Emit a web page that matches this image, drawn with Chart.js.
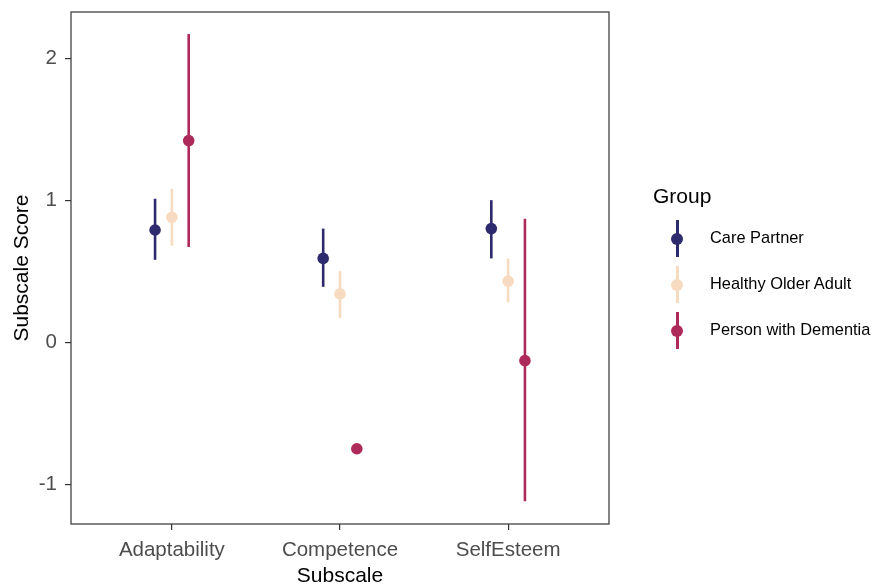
<!DOCTYPE html>
<html>
<head>
<meta charset="utf-8">
<script src="https://cdn.jsdelivr.net/npm/chart.js@4/dist/chart.umd.min.js"></script>
<style>
  html, body { margin: 0; padding: 0; background: #fff; }
  #wrap { position: relative; width: 873px; height: 587px; font-family: 'Liberation Sans', Arial, sans-serif; }
  #chart { position: absolute; left: 0; top: 0; }
  #legend { position: absolute; left: 653px; top: 181px; }
  #legend .title { font-size: 21px; color: #000; height: 35px; line-height: 30px; }
  #legend .item { position: relative; height: 46px; }
  #legend .key { position: absolute; left: 14px; top: 4px; width: 20px; height: 37px; }
  #legend .key .bar { position: absolute; left: 9px; top: 0; width: 2.5px; height: 37px; }
  #legend .key .dot { position: absolute; left: 4px; top: 12.5px; width: 12px; height: 12px; border-radius: 50%; }
  #legend .label { position: absolute; left: 57px; top: 12px; font-size: 16.4px; color: #000; white-space: nowrap; }
</style>
</head>
<body>
<div id="wrap">
  <canvas id="chart" width="873" height="587"></canvas>
  <div id="legend"></div>
</div>
<script>
const categories = ['Adaptability', 'Competence', 'SelfEsteem'];
const groups = ['Care Partner', 'Healthy Older Adult', 'Person with Dementia'];
const groupColors = ['#2e2a6e', '#f6dbc0', '#ae2a5b'];
const dodge = [-0.1, 0, 0.1];

// mean and interval per subscale
const carePartnerMean = [0.79, 0.59, 0.80];
const carePartnerLow  = [0.58, 0.39, 0.59];
const carePartnerHigh = [1.01, 0.80, 1.00];

const healthyMean = [0.88, 0.34, 0.43];
const healthyLow  = [0.68, 0.17, 0.28];
const healthyHigh = [1.08, 0.50, 0.59];

const dementiaMean = [1.42, -0.75, -0.13];
const dementiaLow  = [0.67, null, -1.12];
const dementiaHigh = [2.17, null, 0.87];

const yTicks = [-1, 0, 1, 2];

const means = [carePartnerMean, healthyMean, dementiaMean];
const lows = [carePartnerLow, healthyLow, dementiaLow];
const highs = [carePartnerHigh, healthyHigh, dementiaHigh];

const datasets = groups.map((g, gi) => ({
    label: g,
    data: means[gi].map((m, ci) => ({ x: ci + 1 + dodge[gi], y: m, lo: lows[gi][ci], hi: highs[gi][ci] })),
    backgroundColor: groupColors[gi],
    borderWidth: 0,
    pointRadius: 5.8,
    pointHoverRadius: 5.8
}));

// vertical ranges behind the points
const errorBars = {
    id: 'errorBars',
    beforeDatasetsDraw(chart) {
        const ctx = chart.ctx;
        const xs = chart.scales.x, ys = chart.scales.y;
        ctx.save();
        chart.data.datasets.forEach(ds => {
            ctx.strokeStyle = ds.backgroundColor;
            ctx.lineWidth = 2.6;
            ds.data.forEach(p => {
                if (p.lo == null || p.hi == null) return;
                const x = xs.getPixelForValue(p.x);
                ctx.beginPath();
                ctx.moveTo(x, ys.getPixelForValue(p.lo));
                ctx.lineTo(x, ys.getPixelForValue(p.hi));
                ctx.stroke();
            });
        });
        ctx.restore();
    }
};

const panelBorder = {
    id: 'panelBorder',
    afterDraw(chart) {
        const a = chart.chartArea;
        const ctx = chart.ctx;
        ctx.save();
        ctx.strokeStyle = '#333333';
        ctx.lineWidth = 1.2;
        ctx.strokeRect(a.left, a.top, a.right - a.left, a.bottom - a.top);
        ctx.restore();
    }
};

Chart.defaults.font.family = "'Liberation Sans', Arial, sans-serif";

new Chart(document.getElementById('chart'), {
    type: 'scatter',
    data: { datasets: datasets },
    options: {
        responsive: false,
        animation: false,
        events: [],
        layout: { padding: { top: 12, right: 264, left: 0, bottom: 0 } },
        plugins: { legend: { display: false }, tooltip: { enabled: false } },
        scales: {
            x: {
                type: 'linear',
                min: 0.4,
                max: 3.6,
                afterBuildTicks: (scale) => { scale.ticks = categories.map((c, i) => ({ value: i + 1 })); },
                afterFit: (scale) => {
                    scale.height = 63;
                    scale.paddingLeft = 0;
                    scale.paddingRight = 0;
                },
                ticks: {
                    callback: (v) => categories[v - 1],
                    color: '#4d4d4d',
                    font: { size: 20.5 },
                    padding: 8,
                    maxRotation: 0
                },
                grid: { drawOnChartArea: false, drawTicks: true, tickLength: 6, color: '#333333', lineWidth: 1.2 },
                border: { display: false },
                title: { display: true, text: 'Subscale', color: '#000', font: { size: 21, lineHeight: 1.0 }, padding: { top: 0, bottom: 0 } }
            },
            y: {
                min: -1.28,
                max: 2.325,
                afterBuildTicks: (scale) => { scale.ticks = yTicks.map(v => ({ value: v })); },
                afterFit: (scale) => {
                    scale.width = 71;
                    scale.paddingTop = 0;
                    scale.paddingBottom = 0;
                },
                ticks: { color: '#4d4d4d', font: { size: 20.5 }, padding: 8 },
                grid: { drawOnChartArea: false, drawTicks: true, tickLength: 6, color: '#333333', lineWidth: 1.2 },
                border: { display: false },
                title: { display: true, text: 'Subscale Score', color: '#000', font: { size: 21 }, padding: { top: 10, bottom: 0 } }
            }
        }
    },
    plugins: [errorBars, panelBorder]
});

// legend with line-through-point keys
const legend = document.getElementById('legend');
const title = document.createElement('div');
title.className = 'title';
title.textContent = 'Group';
legend.appendChild(title);
groups.forEach((g, gi) => {
    const item = document.createElement('div');
    item.className = 'item';
    item.innerHTML = '<div class="key"><div class="bar"></div><div class="dot"></div></div><div class="label"></div>';
    item.querySelector('.bar').style.background = groupColors[gi];
    item.querySelector('.dot').style.background = groupColors[gi];
    item.querySelector('.label').textContent = g;
    legend.appendChild(item);
});
</script>
</body>
</html>
